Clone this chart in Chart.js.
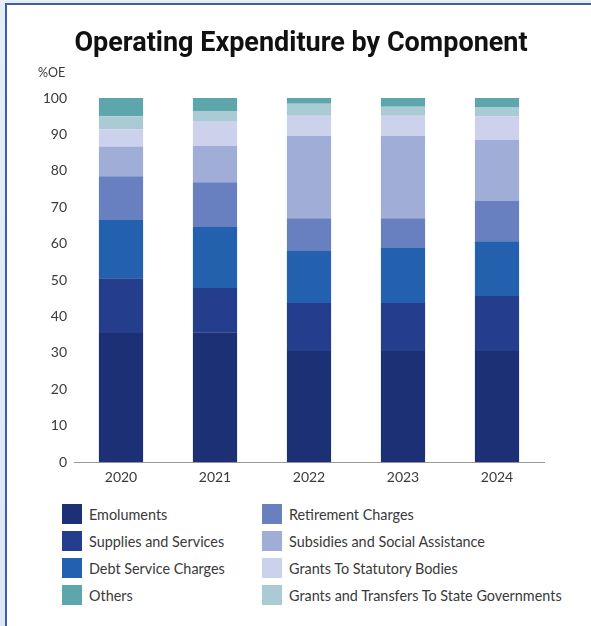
<!DOCTYPE html>
<html>
<head>
<meta charset="utf-8">
<script src="https://cdn.jsdelivr.net/npm/chart.js@4.4.1/dist/chart.umd.min.js"></script>
<style>
  html, body { margin: 0; padding: 0; }
  body {
    width: 591px; height: 626px; overflow: hidden;
    background: linear-gradient(180deg, #e4eef8, #dce8f5);
    font-family: Lato, 'Open Sans', sans-serif;
  }
  .card {
    position: absolute; left: 5px; top: 3px; width: 600px; height: 640px;
    background: #fff; border-left: 2px solid #3d5cb0; border-top: 2px solid #3d5cb0;
  }
  .card canvas { position: absolute; left: 0; top: 0; }
  .title {
    position: absolute; left: 0; top: 21px; width: 588px; margin: 0;
    text-align: center; font: bold 27px Roboto, Inter, sans-serif; color: #111;
  }
  .legend { position: absolute; top: 499px; left: 55px; display: flex; }
  .legend .col { width: 200px; }
  .legend .item {
    display: flex; align-items: center; height: 20px; margin-bottom: 7px;
    font-size: 14.4px; color: #3a3a3a; white-space: nowrap;
  }
  .legend .col + .col .item:nth-child(3) { margin-top: 3px; }
  .legend .sw { width: 20px; height: 20px; margin-right: 7px; flex: none; }
</style>
</head>
<body>
<div class="card">
  <canvas id="chart" width="586" height="488"></canvas>
  <h1 class="title">Operating Expenditure by Component</h1>
  <div class="legend" id="legend"></div>
</div>
<script>
// categories
const years = ['2020', '2021', '2022', '2023', '2024'];

// series, % of operating expenditure (bottom to top of each stack)
const emoluments      = [35.5, 35.7, 30.5, 30.5, 30.5];
const supplies        = [15.0, 12.1, 13.2, 13.2, 15.1];
const debtService     = [16.0, 16.8, 14.3, 15.1, 15.1];
const retirement      = [12.0, 12.3,  9.0,  8.2, 11.0];
const subsidies       = [ 8.2,  9.9, 22.6, 22.6, 16.8];
const grantsStatutory = [ 4.7,  6.9,  5.5,  5.5,  6.5];
const grantsState     = [ 3.6,  2.7,  3.3,  2.5,  2.5];
const others          = [ 5.0,  3.6,  1.6,  2.4,  2.5];

const seriesNames = [
  'Emoluments', 'Supplies and Services', 'Debt Service Charges', 'Retirement Charges',
  'Subsidies and Social Assistance', 'Grants To Statutory Bodies',
  'Grants and Transfers To State Governments', 'Others'
];
const seriesData = [emoluments, supplies, debtService, retirement, subsidies, grantsStatutory, grantsState, others];
const colors = ['#1c3075', '#243e8d', '#2360ae', '#6880bf', '#a0aed7', '#ccd2eb', '#aacbd3', '#5ca6ac'];

// y ticks
const yMin = 0, yMax = 100, yStep = 10;

// legend columns (indexes into seriesNames)
const legendCols = [[0, 1, 2, 7], [3, 4, 5, 6]];

// "%OE" label above the y axis
const unitLabel = {
  id: 'unitLabel',
  afterDraw(chart) {
    const { ctx, chartArea } = chart;
    ctx.save();
    ctx.font = '12.5px Lato, sans-serif';
    ctx.fillStyle = '#3a3a3a';
    ctx.textAlign = 'left';
    ctx.textBaseline = 'middle';
    ctx.fillText('%OE', chartArea.left - 36, chartArea.top - 25);
    ctx.restore();
  }
};

const tickFont = { family: 'Lato, sans-serif', size: 14 };

new Chart(document.getElementById('chart'), {
  type: 'bar',
  data: {
    labels: years,
    datasets: seriesNames.map((name, i) => ({
      label: name,
      data: seriesData[i],
      backgroundColor: colors[i],
      borderWidth: 0,
      categoryPercentage: 1,
      barPercentage: 0.47
    }))
  },
  options: {
    responsive: false,
    animation: false,
    layout: { padding: { top: 93, left: 0, right: 49, bottom: 0 } },
    plugins: {
      legend: { display: false },
      tooltip: { enabled: false },
      title: { display: false }
    },
    scales: {
      x: {
        stacked: true,
        grid: { display: false, drawTicks: false },
        border: { display: true, color: '#9a9a9a', width: 1 },
        ticks: { color: '#3a3a3a', font: tickFont, padding: 7 }
      },
      y: {
        stacked: true,
        min: yMin, max: yMax,
        grid: { display: false, drawTicks: false },
        border: { display: false },
        ticks: { stepSize: yStep, color: '#3a3a3a', font: tickFont, padding: 7 },
        afterFit(scale) { scale.width = 67; }
      }
    }
  },
  plugins: [unitLabel]
});

// html legend in two columns
const legend = document.getElementById('legend');
legendCols.forEach(col => {
  const c = document.createElement('div');
  c.className = 'col';
  col.forEach(i => {
    const item = document.createElement('div');
    item.className = 'item';
    item.innerHTML = '<span class="sw" style="background:' + colors[i] + '"></span><span>' + seriesNames[i] + '</span>';
    c.appendChild(item);
  });
  legend.appendChild(c);
});
</script>
</body>
</html>
